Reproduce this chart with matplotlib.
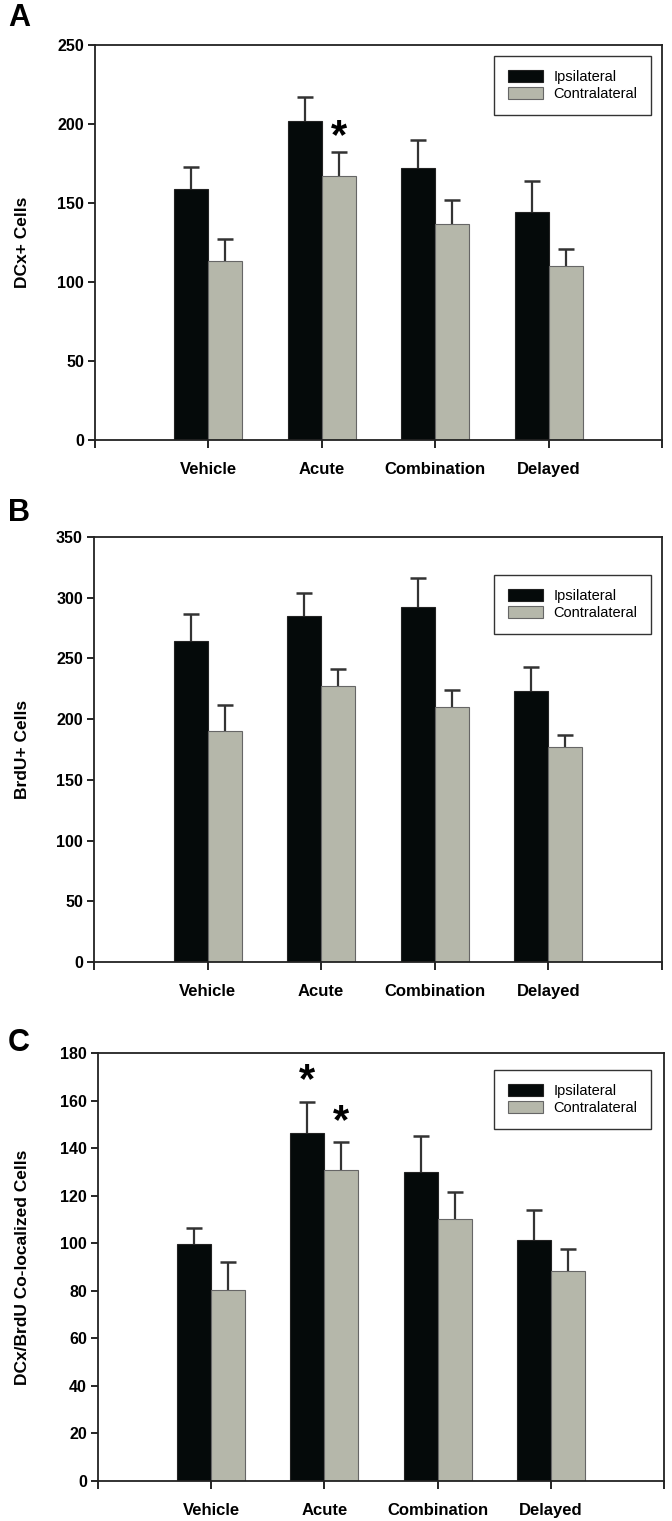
import matplotlib
matplotlib.use("Agg")
import matplotlib.pyplot as plt
import numpy as np

plt.rcParams['font.family'] = ['Liberation Sans', 'DejaVu Sans']

categories = ["Vehicle", "Acute", "Combination", "Delayed"]
series_names = ["Ipsilateral", "Contralateral"]

# Panel A: DCx+ cells
a_ipsi = [159, 202, 172, 144]
a_ipsi_err = [14, 15, 18, 20]
a_contra = [113, 167, 137, 110]
a_contra_err = [14, 15, 15, 11]

# Panel B: BrdU+ cells
b_ipsi = [264, 285, 292, 223]
b_ipsi_err = [23, 19, 24, 20]
b_contra = [190, 227, 210, 177]
b_contra_err = [22, 14, 14, 10]

# Panel C: DCx/BrdU co-localized cells
c_ipsi = [99.5, 146.5, 130, 101.5]
c_ipsi_err = [7, 13, 15, 12.5]
c_contra = [80.5, 131, 110, 88.5]
c_contra_err = [11.5, 11.5, 11.5, 9]

W, H = 672, 1521
fig = plt.figure(figsize=(W / 100, H / 100), dpi=100)

def px_axes(left, right, top, bottom):
    return fig.add_axes([left / W, 1 - bottom / H, (right - left) / W, (bottom - top) / H])

BLACK = "#050a0a"
GRAY = "#b5b7aa"
ERR = "#333333"

panels = [
    dict(box=(95, 662, 45, 440), ipsi=a_ipsi, ie=a_ipsi_err, contra=a_contra, ce=a_contra_err,
         ymax=250, ystep=50, ylabel="DCx+ Cells", letter="A", lpos=(19, 18),
         stars=[(2 + 0.15, 192)], leg_top=56),
    dict(box=(94, 662, 537, 962), ipsi=b_ipsi, ie=b_ipsi_err, contra=b_contra, ce=b_contra_err,
         ymax=350, ystep=50, ylabel="BrdU+ Cells", letter="B", lpos=(19, 513),
         stars=[], leg_top=575),
    dict(box=(98, 664, 1053, 1481), ipsi=c_ipsi, ie=c_ipsi_err, contra=c_contra, ce=c_contra_err,
         ymax=180, ystep=20, ylabel="DCx/BrdU Co-localized Cells", letter="C", lpos=(19, 1043),
         stars=[(2 - 0.15, 168), (2 + 0.15, 151)], leg_top=1070),
]

x = np.arange(1, len(categories) + 1)
bw = 0.3

def up_err(ax, xs, ys, es):
    ys = np.asarray(ys, float)
    tops = ys + np.asarray(es, float)
    ax.vlines(xs, ys, tops, colors=ERR, linewidth=1.6, zorder=1)
    ax.plot(xs, tops, linestyle="none", marker="_", markersize=11, markeredgewidth=1.8,
            color=ERR, zorder=1)

for p in panels:
    l, r, t, b = p["box"]
    ax = px_axes(l, r, t, b)
    ax.bar(x - bw / 2, p["ipsi"], bw, color=BLACK, edgecolor="#222222", linewidth=0.8,
           label=series_names[0], zorder=2)
    ax.bar(x + bw / 2, p["contra"], bw, color=GRAY, edgecolor="#666666", linewidth=0.8,
           label=series_names[1], zorder=2)
    up_err(ax, x - bw / 2, p["ipsi"], p["ie"])
    up_err(ax, x + bw / 2, p["contra"], p["ce"])
    for sx, sy in p["stars"]:
        ax.text(sx, sy, "*", ha="center", va="center", fontsize=30, fontweight="bold")
    ax.set_xlim(0, 5)
    ax.set_ylim(0, p["ymax"])
    ax.set_xticks([0, 1, 2, 3, 4, 5])
    ax.set_xticklabels([""] + categories + [""], fontsize=12, fontweight="bold")
    ax.set_yticks(np.arange(0, p["ymax"] + 1, p["ystep"]))
    ax.tick_params(axis="y", labelsize=11.5, direction="out", length=5, width=1.2, pad=3)
    ax.tick_params(axis="x", direction="out", length=6, width=1.2, pad=10)
    for lab in ax.get_yticklabels():
        lab.set_fontweight("bold")
    for s in ax.spines.values():
        s.set_linewidth(1.3)
        s.set_color("#222222")
    ax.set_ylabel(p["ylabel"], fontsize=12.5, fontweight="bold", labelpad=8)
    ax.yaxis.set_label_coords(-(l - 30) / (r - l), 0.5)
    leg_y = (b - p["leg_top"]) / (b - t)
    leg_x = (651 - l) / (r - l)
    leg = ax.legend(loc="upper right", bbox_to_anchor=(leg_x, leg_y), fontsize=10.5,
                    frameon=True, fancybox=False, edgecolor="#333333", framealpha=1,
                    handlelength=2.4, handleheight=0.9, borderpad=0.95, labelspacing=0.2,
                    handletextpad=0.7, borderaxespad=0)
    leg.get_frame().set_linewidth(1.0)
    fig.text(p["lpos"][0] / W, 1 - p["lpos"][1] / H, p["letter"], fontsize=22,
             fontweight="bold", ha="center", va="center")

fig.savefig("out.png", dpi=100)
